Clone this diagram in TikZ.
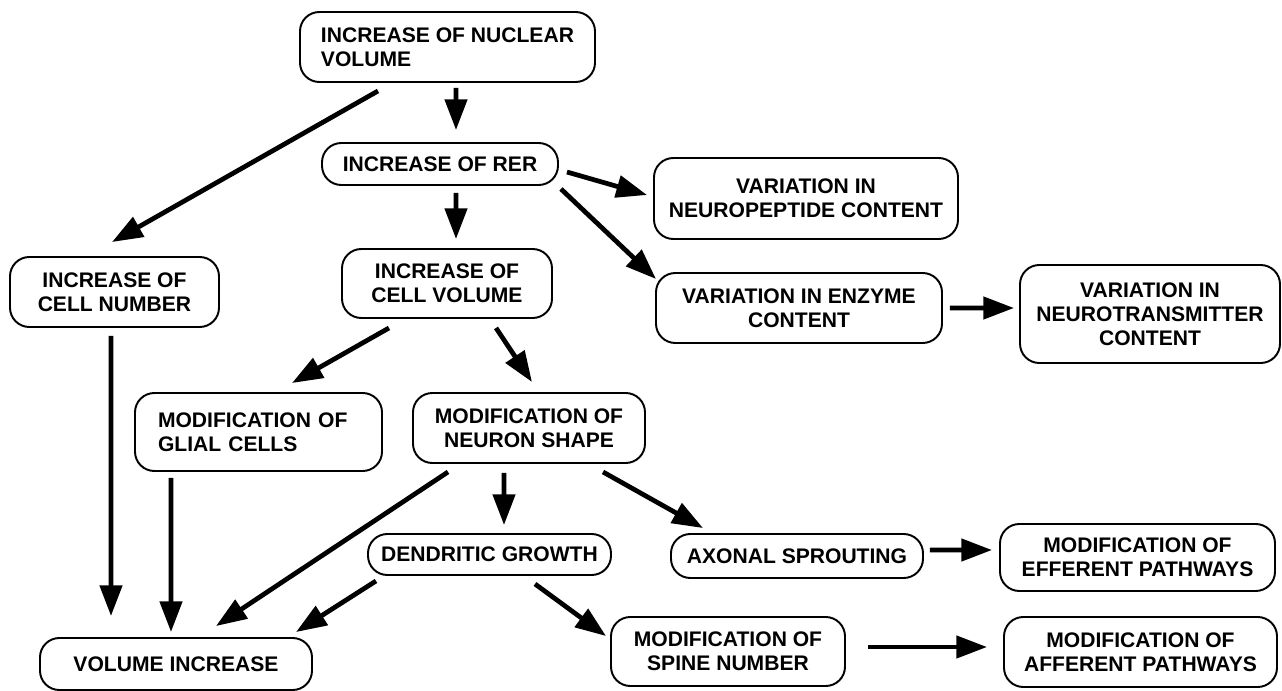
\documentclass[tikz,border=0pt]{standalone}
\usepackage{fontspec}
\setmainfont{Liberation Sans}
\usepackage{tikz}
\usetikzlibrary{arrows.meta}
\tikzset{
  fx/.style={x=0.2mm, y=-0.2mm},
  n box/.style={draw, line width=1.1pt, rounded corners=11pt, align=center, inner sep=0pt, font=\bfseries\fontsize{12}{13.6}\selectfont},
  n arr/.style={-{Triangle[length=17.5pt, width=12.5pt]}, line width=2.7pt},
}
\begin{document}
\begin{tikzpicture}[fx]
\useasboundingbox (0,0) rectangle (1282,691);
\node[n box, align=left, minimum width=59mm, minimum height=14mm] (nuc) at (447.5,47) {INCREASE OF NUCLEAR\\VOLUME};
\node[n box, minimum width=47.2mm, minimum height=8.4mm] (rer) at (440,164) {INCREASE OF RER};
\node[n box, minimum width=60.8mm, minimum height=16.2mm] (pep) at (806,198.5) {VARIATION IN\\NEUROPEPTIDE CONTENT};
\node[n box, minimum width=41.8mm, minimum height=14mm] (cnum) at (114.5,292) {INCREASE OF\\CELL NUMBER};
\node[n box, minimum width=42mm, minimum height=13.8mm] (cvol) at (447,283.5) {INCREASE OF\\CELL VOLUME};
\node[n box, minimum width=57.2mm, minimum height=14mm] (enz) at (799,308) {VARIATION IN ENZYME\\CONTENT};
\node[n box, minimum width=52mm, minimum height=19.6mm] (ntr) at (1150,314) {VARIATION IN\\NEUROTRANSMITTER\\CONTENT};
\node[n box, align=left, text width=40.2mm, minimum width=49.4mm, minimum height=15.6mm] (glia) at (258.5,432) {MODIFICATION OF\\GLIAL CELLS};
\node[n box, minimum width=46.4mm, minimum height=14mm] (nsh) at (529,428) {MODIFICATION OF\\NEURON SHAPE};
\node[n box, minimum width=48.6mm, minimum height=8.2mm] (den) at (489.5,554.5) {DENDRITIC GROWTH};
\node[n box, minimum width=50.4mm, minimum height=8.8mm] (axo) at (797,556) {AXONAL SPROUTING};
\node[n box, minimum width=55mm, minimum height=13.4mm] (eff) at (1137.5,557.5) {MODIFICATION OF\\EFFERENT PATHWAYS};
\node[n box, minimum width=54.4mm, minimum height=10.4mm] (vol) at (176,664) {VOLUME INCREASE};
\node[n box, minimum width=46.8mm, minimum height=13.8mm] (spi) at (728,651.5) {MODIFICATION OF\\SPINE NUMBER};
\node[n box, minimum width=54.6mm, minimum height=14mm] (aff) at (1140.5,652) {MODIFICATION OF\\AFFERENT PATHWAYS};
% upper part
\draw[n arr] ([xshift=1.7mm, yshift=-1mm]nuc.south) -- ([xshift=3.2mm, yshift=2.4mm]rer.north);
\draw[n arr] ([xshift=-13.9mm, yshift=-1.6mm]nuc.south) -- ([xshift=-0.5mm, yshift=2.8mm]cnum.north);
\draw[n arr] ([xshift=1.6mm, yshift=-1.6mm]rer.east) -- ([xshift=-1.2mm, yshift=0.7mm]pep.west);
\draw[n arr] ([xshift=0.4mm, yshift=-0.6mm]rer.south east) -- ([xshift=0.2mm, yshift=-1.4mm]enz.north west);
\draw[n arr] ([xshift=3.2mm, yshift=-1.4mm]rer.south) -- ([xshift=1.8mm, yshift=1.8mm]cvol.north);
\draw[n arr] ([xshift=1.4mm]enz.east) -- ([xshift=-1mm, yshift=1.2mm]ntr.west);
% middle part
\draw[n arr] ([xshift=-0.7mm, yshift=-1.6mm]cnum.south) -- ([xshift=-13mm, yshift=4.2mm]vol.north);
\draw[n arr] ([xshift=-11.6mm, yshift=-1.8mm]cvol.south) -- ([xshift=6.7mm, yshift=1.8mm]glia.north);
\draw[n arr] ([xshift=9.8mm, yshift=-1.8mm]cvol.south) -- ([xshift=0.6mm, yshift=2mm]nsh.north);
\draw[n arr] ([xshift=-17.5mm, yshift=-1.2mm]glia.south) -- ([xshift=-1mm, yshift=1mm]vol.north);
\draw[n arr] ([xshift=-16.2mm, yshift=-1.6mm]nsh.south) -- ([xshift=8mm, yshift=2.2mm]vol.north);
\draw[n arr] ([xshift=-5mm, yshift=-1.8mm]nsh.south) -- ([xshift=2.9mm, yshift=1.6mm]den.north);
\draw[n arr] ([xshift=14.8mm, yshift=-1.6mm]nsh.south) -- ([xshift=-18.8mm, yshift=1mm]axo.north);
% lower part
\draw[n arr] ([xshift=-22.7mm, yshift=-1mm]den.south) -- ([xshift=24mm, yshift=1mm]vol.north);
\draw[n arr] ([xshift=9.1mm, yshift=-1.6mm]den.south) -- ([xshift=-0.8mm, yshift=-4mm]spi.north west);
\draw[n arr] ([xshift=1.2mm, yshift=1.2mm]axo.east) -- ([xshift=-1.4mm, yshift=1.5mm]eff.west);
\draw[n arr] ([xshift=4.4mm, yshift=0.9mm]spi.east) -- ([xshift=-3.2mm, yshift=1mm]aff.west);
\end{tikzpicture}
\end{document}
